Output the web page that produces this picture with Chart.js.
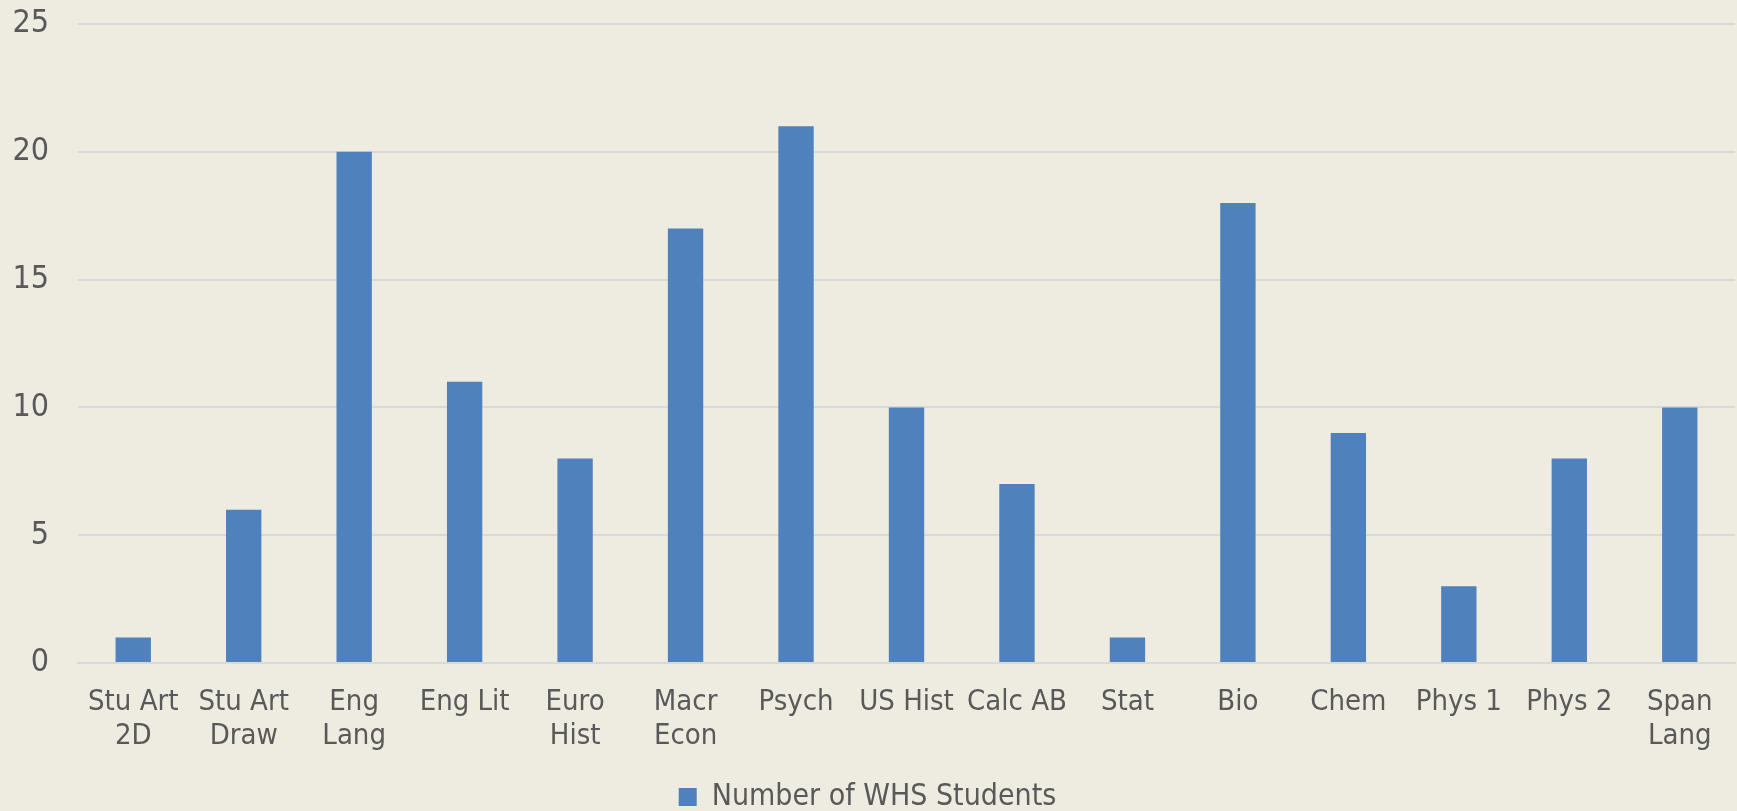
<!DOCTYPE html>
<html>
<head>
<meta charset="utf-8">
<script src="https://cdn.jsdelivr.net/npm/chart.js@4.4.1/dist/chart.umd.min.js"></script>
<style>
  html, body { margin: 0; padding: 0; background: #eeebe0; }
  #wrap { width: 1737px; height: 811px; position: relative; }
</style>
</head>
<body>
<div id="wrap"><canvas id="chart-students"></canvas></div>
<script>
// data
const courses = [
  ['Stu Art', '2D'], ['Stu Art', 'Draw'], ['Eng', 'Lang'], 'Eng Lit', ['Euro', 'Hist'],
  ['Macr', 'Econ'], 'Psych', 'US Hist', 'Calc AB', 'Stat',
  'Bio', 'Chem', 'Phys 1', 'Phys 2', ['Span', 'Lang']
];
const students = [1, 6, 20, 11, 8, 17, 21, 10, 7, 1, 18, 9, 3, 8, 10];
const seriesName = 'Number of WHS Students';
const yTicks = [0, 5, 10, 15, 20, 25];

const textColor = '#595959';
const fontFamily = '"DejaVu Sans Condensed", "DejaVu Sans", sans-serif';

const ctx = document.getElementById('chart-students').getContext('2d');
new Chart(ctx, {
  type: 'bar',
  data: {
    labels: courses,
    datasets: [{
      label: seriesName,
      data: students,
      backgroundColor: '#4f81bd',
      borderWidth: 0,
      categoryPercentage: 1,
      barPercentage: 0.32
    }]
  },
  options: {
    responsive: true,
    maintainAspectRatio: false,
    animation: false,
    layout: { padding: { top: 0, right: 2, left: 0, bottom: -11 } },
    plugins: {
      legend: {
        position: 'bottom',
        labels: { color: textColor, font: { family: fontFamily, size: 30 }, boxWidth: 18, boxHeight: 18, padding: 4 }
      },
      tooltip: { enabled: false }
    },
    scales: {
      y: {
        min: 0, max: 25,
        afterBuildTicks: s => { s.ticks = yTicks.map(v => ({ value: v })); },
        // fixed axis box so the plot sits where the original one does
        afterFit: s => { s.width = 78; s.paddingTop = 24; s.paddingBottom = 0; },
        grid: { color: '#d9d9d9', lineWidth: 2, drawTicks: false },
        border: { display: false },
        ticks: { color: textColor, font: { family: fontFamily, size: 32 }, padding: 29 }
      },
      x: {
        afterFit: s => { s.height = 115; },
        grid: { display: false, drawTicks: false },
        border: { color: '#d9d9d9', width: 2 },
        ticks: { color: textColor, font: { family: fontFamily, size: 29, lineHeight: 1.17 }, padding: 23, maxRotation: 0, autoSkip: false }
      }
    }
  }
});
</script>
</body>
</html>
